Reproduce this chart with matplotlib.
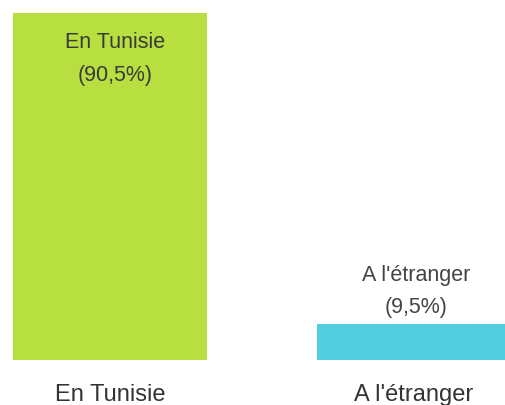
import matplotlib.pyplot as plt

categories = ["En Tunisie", "A l'étranger"]
values = [90.5, 9.5]
bar_labels = ["En Tunisie\n(90,5%)", "A l'étranger\n(9,5%)"]
colors = ["#b7df40", "#52cee0"]

plt.rcParams['font.family'] = ['Liberation Sans', 'DejaVu Sans']

fig = plt.figure(figsize=(5.05, 4.05), dpi=100)
ax = fig.add_axes([0, 45 / 405, 1, 360 / 405])

x = list(range(len(categories)))
ax.bar(x, values, width=0.64, color=colors)

# first label sits inside the tall bar, second one above the short bar
ax.annotate(bar_labels[0], (x[0], values[0]), xytext=(3.5, -14),
            textcoords='offset points', ha='center', va='top',
            fontsize=15.5, color='#3a3a3a', linespacing=1.7)
ax.annotate(bar_labels[1], (x[1], values[1]), xytext=(1.5, 4),
            textcoords='offset points', ha='center', va='bottom',
            fontsize=15.5, color='#444444', linespacing=1.7)

ax.set_xlim(-110 / 304, 395 / 304)
ax.set_ylim(0, 90.5 * 360 / 347)
ax.set_xticks(x)
ax.set_xticklabels(categories, fontsize=17, color='#333333')
ax.tick_params(axis='x', length=0, pad=17)
ax.set_yticks([])
for s in ax.spines.values():
    s.set_visible(False)

fig.savefig("out.png", dpi=100)
